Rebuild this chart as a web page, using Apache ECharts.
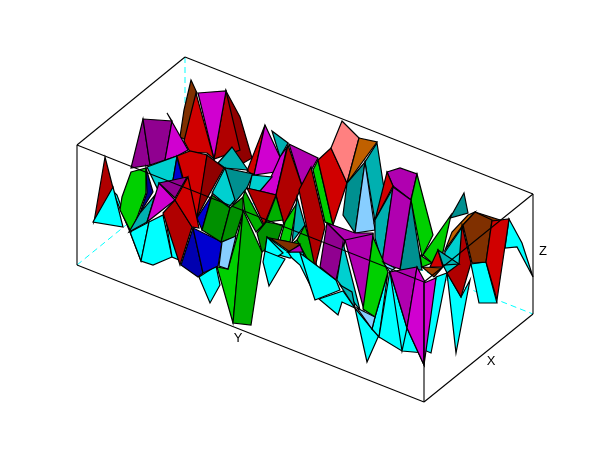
<!DOCTYPE html>
<html><head><meta charset="utf-8">
<style>html,body{margin:0;padding:0;background:#fff}#c{width:610px;height:460px}</style>
<script src="https://cdn.jsdelivr.net/npm/echarts@6/dist/echarts.min.js"></script>
</head><body><div id="c"></div>
<script>
// Scilab colour table
const palette = {b9:'#000090',b10:'#0000b0',b11:'#0000d0',lb:'#87ceff',g13:'#009000',g14:'#00b000',g15:'#00d000',
  c:'#00ffff',c16:'#009090',c17:'#00b0b0',c18:'#00d0d0',r19:'#900000',r20:'#b00000',r21:'#d00000',
  m22:'#900090',m23:'#b000b0',m24:'#d000d0',o25:'#803000',o26:'#a04000',o27:'#c06000',pk:'#ff8080'};
// Surface facets, back to front: colour key, then plane coordinates
const facets = [
 ['o25',[[191,80],[197,93],[186,140],[180,137],[184,110]]],
 ['r19',[[226,91],[240,117],[252,158],[240,165],[232,150]]],
 ['r20',[[226,91],[240,150],[214,159]]],
 ['m24',[[198,93],[226,91],[214,159]]],
 ['r21',[[196,93],[184,141],[190,152],[207,153],[214,159]]],
 ['c17',[[272,131],[288,143],[280,157]]],
 ['r21',[[265,125],[247,171],[254,175]]],
 ['m24',[[265,125],[280,157],[275,172],[254,175]]],
 ['m23',[[289,144],[318,158],[313,167],[302,186]]],
 ['g15',[[318,160],[333,225],[325,222],[313,170]]],
 ['r21',[[318,160],[331,148],[347,183],[333,225]]],
 ['pk',[[342,121],[359,138],[347,183],[331,148]]],
 ['o27',[[359,138],[377,142],[347,183]]],
 ['c17',[[377,143],[385,195],[375,221],[365,162]]],
 ['c16',[[365,162],[355,233],[343,215],[347,183]]],
 ['lb',[[365,162],[375,230],[355,233]]],
 ['m22',[[143,119],[150,165],[131,168]]],
 ['m22',[[143,119],[172,121],[165,160],[150,165]]],
 ['m24',[[167,113],[188,150],[177,156],[165,160],[172,121]]],
 ['c17',[[232,147],[248,170],[225,168],[218,163]]],
 ['c16',[[225,168],[253,174],[247,188],[233,205]]],
 ['c18',[[225,168],[235,200],[229,207],[212,193]]],
 ['m24',[[287,147],[276,195],[260,191],[271,177],[280,157]]],
 ['c18',[[252,175],[272,177],[260,191],[249,189]]],
 ['r20',[[288,145],[302,186],[284,225],[276,195]]],
 ['c18',[[147,167],[177,156],[173,180],[158,190]]],
 ['b11',[[177,157],[183,180],[173,180]]],
 ['r21',[[177,156],[190,151],[207,155],[202,190],[197,217],[183,178]]],
 ['r19',[[207,155],[224,168],[210,193],[197,217]]],
 ['c',[[112,190],[117,195],[141,261],[130,232]]],
 ['r20',[[105,157],[113,188],[94,222]]],
 ['c',[[113,187],[123,227],[93,222]]],
 ['c',[[130,232],[149,222],[141,261]]],
 ['c',[[149,222],[163,215],[172,257],[153,265],[141,261]]],
 ['c',[[165,215],[172,257],[179,260]]],
 ['g15',[[131,172],[146,168],[146,193],[138,215],[131,232],[120,210],[122,197]]],
 ['b9',[[146,168],[153,192],[140,213],[147,193]]],
 ['c17',[[155,195],[147,222],[129,232],[140,213]]],
 ['m24',[[159,183],[175,200],[147,222]]],
 ['m22',[[159,183],[187,177],[175,198]]],
 ['b11',[[212,195],[202,230],[197,218]]],
 ['r20',[[163,213],[175,200],[192,227],[180,265]]],
 ['r21',[[175,200],[188,177],[199,228],[192,227]]],
 ['c',[[199,277],[216,266],[220,285],[210,303]]],
 ['b10',[[181,265],[193,228],[203,273],[198,277]]],
 ['b11',[[193,228],[222,242],[218,266],[203,273]]],
 ['g13',[[212,195],[230,208],[221,242],[202,230]]],
 ['g13',[[230,208],[243,197],[243,212],[235,237],[221,242]]],
 ['g14',[[245,191],[263,225],[256,232],[245,212],[243,197]]],
 ['r20',[[247,188],[276,195],[264,225]]],
 ['g14',[[276,196],[283,220],[266,222]]],
 ['g14',[[290,245],[297,240],[318,270],[300,253]]],
 ['g13',[[266,222],[283,225],[278,240],[262,252],[257,233]]],
 ['g15',[[297,203],[290,242],[280,240],[285,222]]],
 ['c17',[[297,197],[305,225],[292,242]]],
 ['g14',[[305,225],[318,270],[308,260],[297,240]]],
 ['r20',[[311,167],[325,227],[315,267],[299,190]]],
 ['m23',[[387,172],[400,168],[417,174],[411,200],[393,186]]],
 ['r21',[[387,172],[393,186],[375,220]]],
 ['c17',[[393,188],[382,263],[375,238],[375,220]]],
 ['g15',[[417,174],[433,235],[422,257],[411,200]]],
 ['c16',[[411,200],[422,270],[400,270]]],
 ['m23',[[393,187],[411,200],[400,269],[382,263]]],
 ['c16',[[464,193],[468,213],[450,218]]],
 ['g15',[[451,215],[443,252],[432,263],[423,255]]],
 ['g15',[[420,255],[432,263],[422,267]]],
 ['o27',[[468,215],[475,212],[463,225],[445,250],[452,232]]],
 ['c18',[[463,226],[464,262],[447,273],[443,265],[445,252]]],
 ['o25',[[475,212],[500,220],[492,221]]],
 ['c',[[509,219],[522,243],[533,277],[517,247],[505,248]]],
 ['c',[[471,264],[486,262],[497,303],[479,303]]],
 ['o25',[[475,212],[492,220],[486,262],[472,263],[463,225]]],
 ['r21',[[492,221],[509,219],[497,300],[486,262]]],
 ['c',[[447,273],[461,297],[470,280],[456,353]]],
 ['r20',[[462,225],[471,263],[461,297],[447,273],[459,264]]],
 ['r21',[[430,267],[438,250],[443,267]]],
 ['c17',[[438,250],[459,264],[443,265]]],
 ['c',[[265,251],[267,237],[288,252],[300,253],[290,258]]],
 ['c',[[267,237],[283,253],[275,258],[265,251]]],
 ['c',[[263,262],[265,251],[285,259],[269,286]]],
 ['c',[[288,252],[303,252],[310,285],[300,265],[292,258]]],
 ['c',[[300,253],[336,280],[340,290],[315,300],[310,285]]],
 ['c',[[319,299],[343,291],[355,308],[342,302],[338,315]]],
 ['c',[[355,308],[372,329],[379,335],[367,362]]],
 ['c',[[375,317],[388,272],[379,337],[372,329]]],
 ['c',[[390,270],[379,337],[402,351],[424,353],[424,365],[407,328]]],
 ['c',[[390,272],[407,328],[402,351]]],
 ['c',[[436,277],[447,273],[431,353],[424,350]]],
 ['m23',[[327,223],[355,233],[373,233],[373,240],[345,241]]],
 ['m22',[[327,223],[345,241],[336,280],[320,267]]],
 ['c18',[[343,243],[360,310],[337,280]]],
 ['m23',[[345,240],[373,234],[364,310]]],
 ['c17',[[340,285],[352,292],[355,308]]],
 ['g15',[[373,237],[388,272],[375,317],[363,309]]],
 ['lb',[[357,308],[372,329],[375,317]]],
 ['lb',[[383,262],[395,268],[390,272]]],
 ['g15',[[237,237],[243,213],[233,323],[217,267],[228,269]]],
 ['lb',[[236,236],[228,269],[219,266],[222,242]]],
 ['g14',[[243,210],[262,252],[251,325],[233,323]]],
 ['o25',[[270,238],[300,244],[290,252]]],
 ['m23',[[300,245],[303,252],[288,252]]],
 ['m23',[[390,272],[417,267],[407,328]]],
 ['o26',[[422,267],[442,268],[434,277]]],
 ['m24',[[417,267],[425,282],[424,365],[407,328]]],
 ['m24',[[424,283],[436,278],[431,315],[424,365]]]
];
const backEdges = [[[77,265],[185,177]],[[185,177],[533,314]],[[185,57],[185,177]]];
const boxEdges = [[[77,145],[185,57]],[[185,57],[533,194]],[[533,194],[533,314]],[[533,314],[424,402]],
  [[424,402],[77,265]],[[77,265],[77,145]],[[77,145],[424,282]],[[424,282],[533,194]],[[424,282],[424,402]]];
const axisLabels = [['Y',238,338],['X',491,361],['Z',543,251]];

const chart = echarts.init(document.getElementById('c'), null, {renderer:'canvas'});
function polyLine(edges, style){
  return {type:'custom',coordinateSystem:'cartesian2d',silent:true,animation:false,clip:false,
    data:edges.map((_,i)=>[i]),
    renderItem(p,api){const e=edges[p.dataIndex];const a=api.coord(e[0]),b=api.coord(e[1]);
      return {type:'line',shape:{x1:a[0],y1:a[1],x2:b[0],y2:b[1]},style};}};
}
chart.setOption({
  animation:false,
  grid:{left:0,right:0,top:0,bottom:0,containLabel:false},
  xAxis:{type:'value',min:0,max:610,show:false},
  yAxis:{type:'value',min:0,max:460,inverse:true,show:false},
  series:[
    polyLine(backEdges,{stroke:'#00ffff',lineWidth:1,lineDash:[6,4]}),
    {type:'custom',coordinateSystem:'cartesian2d',silent:true,animation:false,clip:false,z:3,data:facets.map((_,i)=>[i]),
     renderItem(p,api){
       const f=facets[p.dataIndex];
       return {type:'polygon',shape:{points:f[1].map(q=>api.coord(q))},
         style:{fill:palette[f[0]],stroke:'#000',lineWidth:1.2}};
     }},
    Object.assign(polyLine(boxEdges,{stroke:'#000',lineWidth:1.1}),{z:5}),
    {type:'custom',coordinateSystem:'cartesian2d',silent:true,animation:false,clip:false,z:6,data:axisLabels.map((_,i)=>[i]),
     renderItem(p,api){const a=axisLabels[p.dataIndex];const c=api.coord([a[1],a[2]]);
       return {type:'text',style:{x:c[0],y:c[1],text:a[0],fill:'#000',font:'13px "Liberation Sans"',align:'center',verticalAlign:'middle'}};}}
  ]
});
</script></body></html>
